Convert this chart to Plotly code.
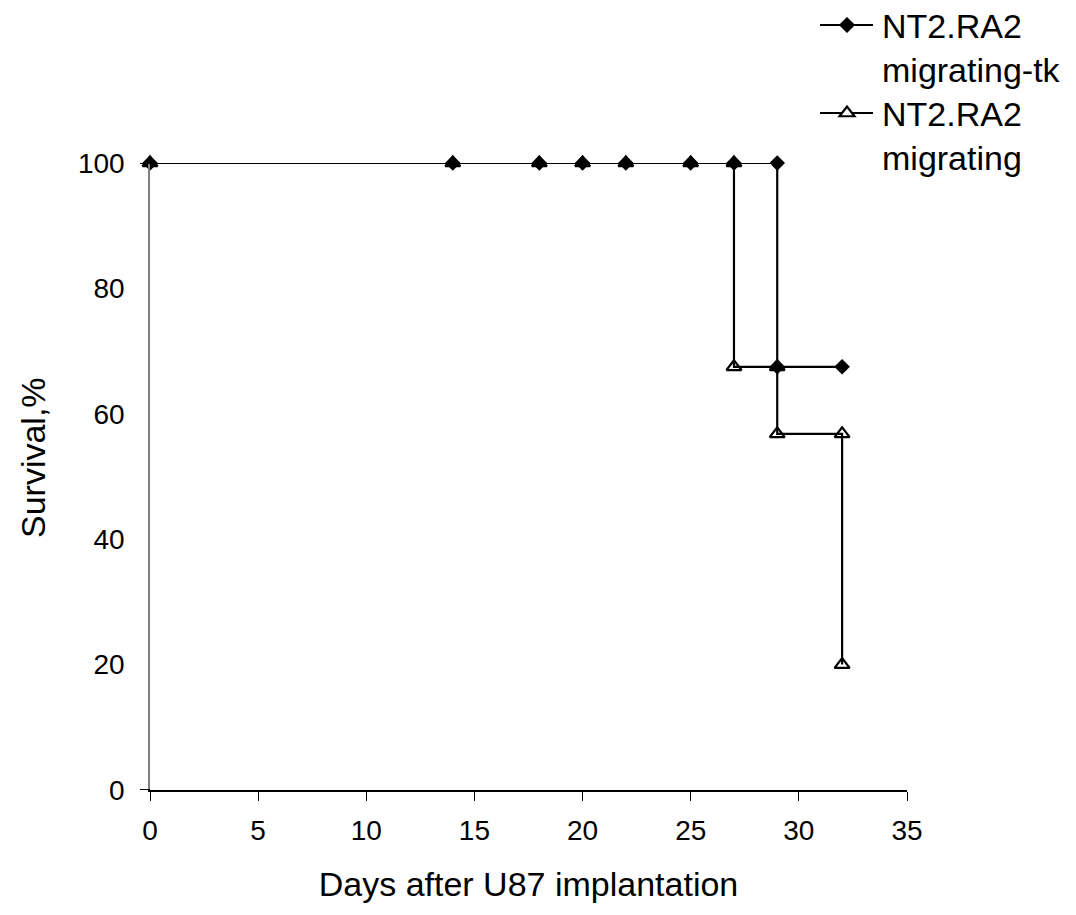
import math
import plotly.graph_objects as go

# Survival data (days after implantation, % surviving)
days_tk = [0, 14, 18, 20, 22, 25, 27, 29, 29, 32]
surv_tk = [100, 100, 100, 100, 100, 100, 100, 100, 67.5, 67.5]

days_mig = [0, 14, 18, 20, 22, 25, 27, 27, 29, 29, 32, 32]
surv_mig = [100, 100, 100, 100, 100, 100, 100, 67.5, 67.5, 56.8, 56.8, 20]

series_names = ["NT2.RA2<br>migrating-tk", "NT2.RA2<br>migrating"]

x_ticks = [0, 5, 10, 15, 20, 25, 30, 35]
y_ticks = [0, 20, 40, 60, 80, 100]
X_RANGE = [0, 35]
Y_RANGE = [0, 100]

FONT = "Liberation Sans, Arial, sans-serif"
W, H = 1076, 915
ML, MR, MT, MB = 150, 169, 163, 125
PW, PH = W - ML - MR, H - MT - MB

DIAMOND_SIZE = 12
TRIANGLE_SIZE = 13
LINE_W = 2.2


def paper_x(px):
    return (px - ML) / PW


def paper_y(py):
    return (H - MB - py) / PH


def paper_path(points):
    """SVG path (closed polygon) from page-pixel points, in paper units."""
    parts = [f"{'M' if i == 0 else 'L'}{paper_x(x):.5f},{paper_y(y):.5f}"
             for i, (x, y) in enumerate(points)]
    return " ".join(parts) + " Z"


def diamond_points(cx, cy, size):
    r = size / 2 * 1.3
    return [(cx - r, cy), (cx, cy - r), (cx + r, cy), (cx, cy + r)]


def triangle_points(cx, cy, size):
    r = size / 2
    rt = r * 2 / math.sqrt(3)
    return [(cx - rt, cy + r / 2), (cx + rt, cy + r / 2), (cx, cy - r)]


diamond = dict(symbol="diamond", size=DIAMOND_SIZE, color="black")
triangle = dict(symbol="triangle-up-open", size=TRIANGLE_SIZE, color="black",
                line=dict(width=LINE_W, color="black"))

fig = go.Figure()
fig.add_trace(go.Scatter(
    x=days_tk, y=surv_tk, mode="lines+markers", name=series_names[0],
    line=dict(color="black", width=LINE_W), marker=diamond,
    cliponaxis=False, showlegend=False,
))
fig.add_trace(go.Scatter(
    x=days_mig, y=surv_mig, mode="lines+markers", name=series_names[1],
    line=dict(color="black", width=LINE_W), marker=triangle,
    cliponaxis=False, showlegend=False,
))

# Legend in the top-right corner: sample line, symbol and two-line label
legend_rows = [
    (25, 70, diamond_points(847, 25, DIAMOND_SIZE), "black"),
    (113, 158, triangle_points(847, 113, TRIANGLE_SIZE), "white"),
]
for (y_line, y_second, pts, fill), label in zip(legend_rows, series_names):
    fig.add_shape(type="line", xref="paper", yref="paper",
                  x0=paper_x(820), x1=paper_x(873),
                  y0=paper_y(y_line), y1=paper_y(y_line),
                  line=dict(color="black", width=LINE_W))
    fig.add_shape(type="path", xref="paper", yref="paper",
                  path=paper_path(pts), fillcolor=fill,
                  line=dict(color="black",
                            width=LINE_W if fill == "white" else 0.5))
    fig.add_annotation(
        x=paper_x(880), y=paper_y((y_line + y_second) / 2),
        xref="paper", yref="paper",
        text=label, showarrow=False, xanchor="left", yanchor="middle",
        align="left", font=dict(size=34, family=FONT, color="black"),
    )

# short tick marks on the left of the y axis at 0 and 100
for yv in (0, 100):
    fig.add_shape(type="line", xref="paper", yref="y",
                  x0=paper_x(140), x1=0, y0=yv, y1=yv,
                  line=dict(color="black", width=2))

# vertical axis title
fig.add_annotation(
    x=paper_x(33), y=paper_y(458), xref="paper", yref="paper",
    text="Survival,%", textangle=-90, showarrow=False,
    xanchor="center", yanchor="middle",
    font=dict(size=34, family=FONT, color="black"),
)

fig.update_layout(
    width=W, height=H,
    margin=dict(l=ML, r=MR, t=MT, b=MB),
    plot_bgcolor="white", paper_bgcolor="white",
    font=dict(family=FONT, size=28, color="black"),
    showlegend=False,
    xaxis=dict(range=X_RANGE, tickvals=x_ticks, ticks="outside", ticklen=9,
               tickwidth=1.2, tickcolor="black", showline=True,
               linecolor="black", linewidth=2, showgrid=False, zeroline=False,
               ticklabelstandoff=5,
               title=dict(text="Days after U87 implantation", standoff=28,
                          font=dict(size=34)),
               tickfont=dict(size=28)),
    yaxis=dict(range=Y_RANGE, tickvals=y_ticks, ticks="", showline=True,
               linecolor="#808080", linewidth=1.5, showgrid=False,
               zeroline=False, ticklabelstandoff=18,
               tickfont=dict(size=28)),
)

fig.write_html("out.html")
